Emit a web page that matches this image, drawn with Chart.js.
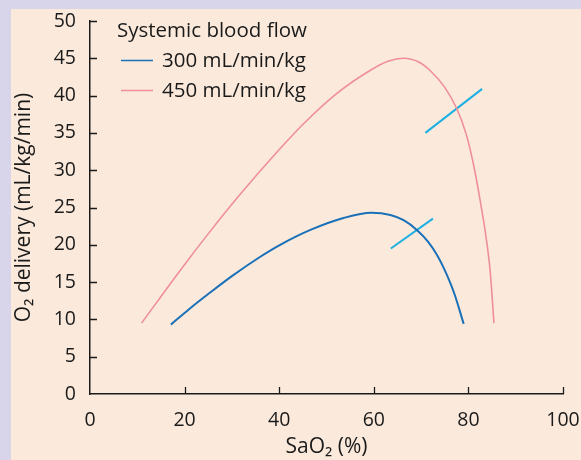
<!DOCTYPE html>
<html>
<head>
<meta charset="utf-8">
<script src="https://cdn.jsdelivr.net/npm/chart.js@4/dist/chart.umd.min.js"></script>
<style>
  html, body { margin: 0; padding: 0; background: #d8d5ea; }
  #wrap { position: absolute; left: 11px; top: 9px; width: 570px; height: 451px; background: #fbeadc; }
  canvas { display: block; }
</style>
</head>
<body>
<div id="wrap"><canvas id="c" width="570" height="451"></canvas></div>
<script>
const legendTitle = "Systemic blood flow";
const seriesNames = ["300 mL/min/kg", "450 mL/min/kg"];
const xAxisTitle = "SaO₂ (%)";
const yAxisTitle = "O₂ delivery (mL/kg/min)";
const xTicks = [0, 20, 40, 60, 80, 100];
const yTicks = [0, 5, 10, 15, 20, 25, 30, 35, 40, 45, 50];

const flow300X = [17.1, 21.0, 25.4, 30.0, 36.0, 40.2, 46.6, 53.6, 59.5, 63.5, 66.3, 69.1, 71.5, 73.4, 75.0, 77.0, 79.0];
const flow300Y = [9.3, 11.4, 13.6, 15.8, 18.4, 20.0, 22.0, 23.6, 24.3, 24.0, 23.3, 22.0, 20.4, 18.6, 16.6, 13.5, 9.4];

const flow450X = [10.9, 19.1, 25.4, 31.8, 40.2, 45.1, 52.2, 59.3, 63.0, 66.3, 69.5, 72.0, 75.0, 77.5, 79.5, 81.1, 82.5, 83.6, 84.6, 85.4];
const flow450Y = [9.5, 16.6, 21.8, 26.8, 32.9, 36.2, 40.3, 43.4, 44.6, 45.0, 44.5, 43.3, 41.1, 38.3, 34.9, 30.7, 25.9, 21.6, 16.5, 9.5];

const markerUpperX = [70.9, 82.9];
const markerUpperY = [35.0, 40.9];
const markerLowerX = [63.6, 72.5];
const markerLowerY = [19.5, 23.5];

const pts = (xs, ys) => xs.map((x, i) => ({ x: x, y: ys[i] }));

const FONT = "'Open Sans', 'Noto Sans', sans-serif";
const TEXT = "#1a1a1a";
const BLUE = "#1a70b8";
const PINK = "#ef8e99";
const CYAN = "#1fb0e2";

const innerTicks = {
  id: 'innerTicks',
  afterDraw(chart) {
    const ctx = chart.ctx;
    const xs = chart.scales.x, ys = chart.scales.y;
    ctx.save();
    ctx.strokeStyle = TEXT;
    ctx.lineWidth = 1.3;
    const yAxis = xs.top;
    const xLeft = ys.right;
    ctx.beginPath();
    xTicks.forEach(v => {
      if (v === 0) return;
      const px = Math.round(xs.getPixelForValue(v)) + 0.5;
      ctx.moveTo(px, yAxis);
      ctx.lineTo(px, yAxis - 7);
    });
    yTicks.forEach(v => {
      if (v === 0) return;
      const py = Math.round(ys.getPixelForValue(v)) + 0.5;
      ctx.moveTo(xLeft, py);
      ctx.lineTo(xLeft + 7, py);
    });
    ctx.stroke();

    // legend
    ctx.fillStyle = TEXT;
    ctx.font = "20.5px " + FONT;
    ctx.textBaseline = "middle";
    ctx.textAlign = "left";
    ctx.fillText(legendTitle, 106, 22);
    const cols = [BLUE, PINK];
    seriesNames.forEach((n, i) => {
      const y = 51.5 + i * 30;
      ctx.strokeStyle = cols[i];
      ctx.lineWidth = 1.5;
      ctx.beginPath();
      ctx.moveTo(110, y);
      ctx.lineTo(142, y);
      ctx.stroke();
      ctx.fillText(n, 151, y + 1);
    });
    ctx.restore();
  }
};

new Chart(document.getElementById('c'), {
  type: 'scatter',
  data: {
    datasets: [
      { label: seriesNames[0], data: pts(flow300X, flow300Y), showLine: true, borderColor: BLUE, borderWidth: 2, pointRadius: 0, cubicInterpolationMode: 'monotone', fill: false },
      { label: seriesNames[1], data: pts(flow450X, flow450Y), showLine: true, borderColor: PINK, borderWidth: 1.6, pointRadius: 0, cubicInterpolationMode: 'monotone', fill: false },
      { label: 'm1', data: pts(markerUpperX, markerUpperY), showLine: true, borderColor: CYAN, borderWidth: 2, pointRadius: 0, fill: false },
      { label: 'm2', data: pts(markerLowerX, markerLowerY), showLine: true, borderColor: CYAN, borderWidth: 2, pointRadius: 0, fill: false }
    ]
  },
  options: {
    responsive: false,
    animation: false,
    events: [],
    layout: { padding: { top: 12, right: 18, left: 0, bottom: 0 } },
    plugins: { legend: { display: false }, tooltip: { enabled: false } },
    scales: {
      x: {
        type: 'linear', min: 0, max: 100,
        afterBuildTicks: s => { s.ticks = xTicks.map(v => ({ value: v })); },
        afterFit: s => { s.height = 66; s.paddingLeft = 0; s.paddingRight = 0; },
        grid: { display: true, drawOnChartArea: false, drawTicks: false },
        border: { display: true, color: TEXT, width: 1.5 },
        ticks: { color: TEXT, font: { family: FONT, size: 19.5 }, padding: 15, maxRotation: 0 },
        title: { display: true, text: xAxisTitle, color: TEXT, font: { family: FONT, size: 21 }, padding: { top: 4, bottom: 0 } }
      },
      y: {
        type: 'linear', min: 0, max: 50,
        afterBuildTicks: s => { s.ticks = yTicks.map(v => ({ value: v })); },
        afterFit: s => { s.width = 79; s.paddingTop = 0; s.paddingBottom = 0; },
        grid: { display: true, drawOnChartArea: false, drawTicks: false },
        border: { display: true, color: TEXT, width: 1.5 },
        ticks: { color: TEXT, font: { family: FONT, size: 19.5 }, padding: 14 },
        title: { display: true, text: yAxisTitle, color: TEXT, font: { family: FONT, size: 21 }, padding: { top: 0, bottom: 2 } }
      }
    }
  },
  plugins: [innerTicks]
});
</script>
</body>
</html>
